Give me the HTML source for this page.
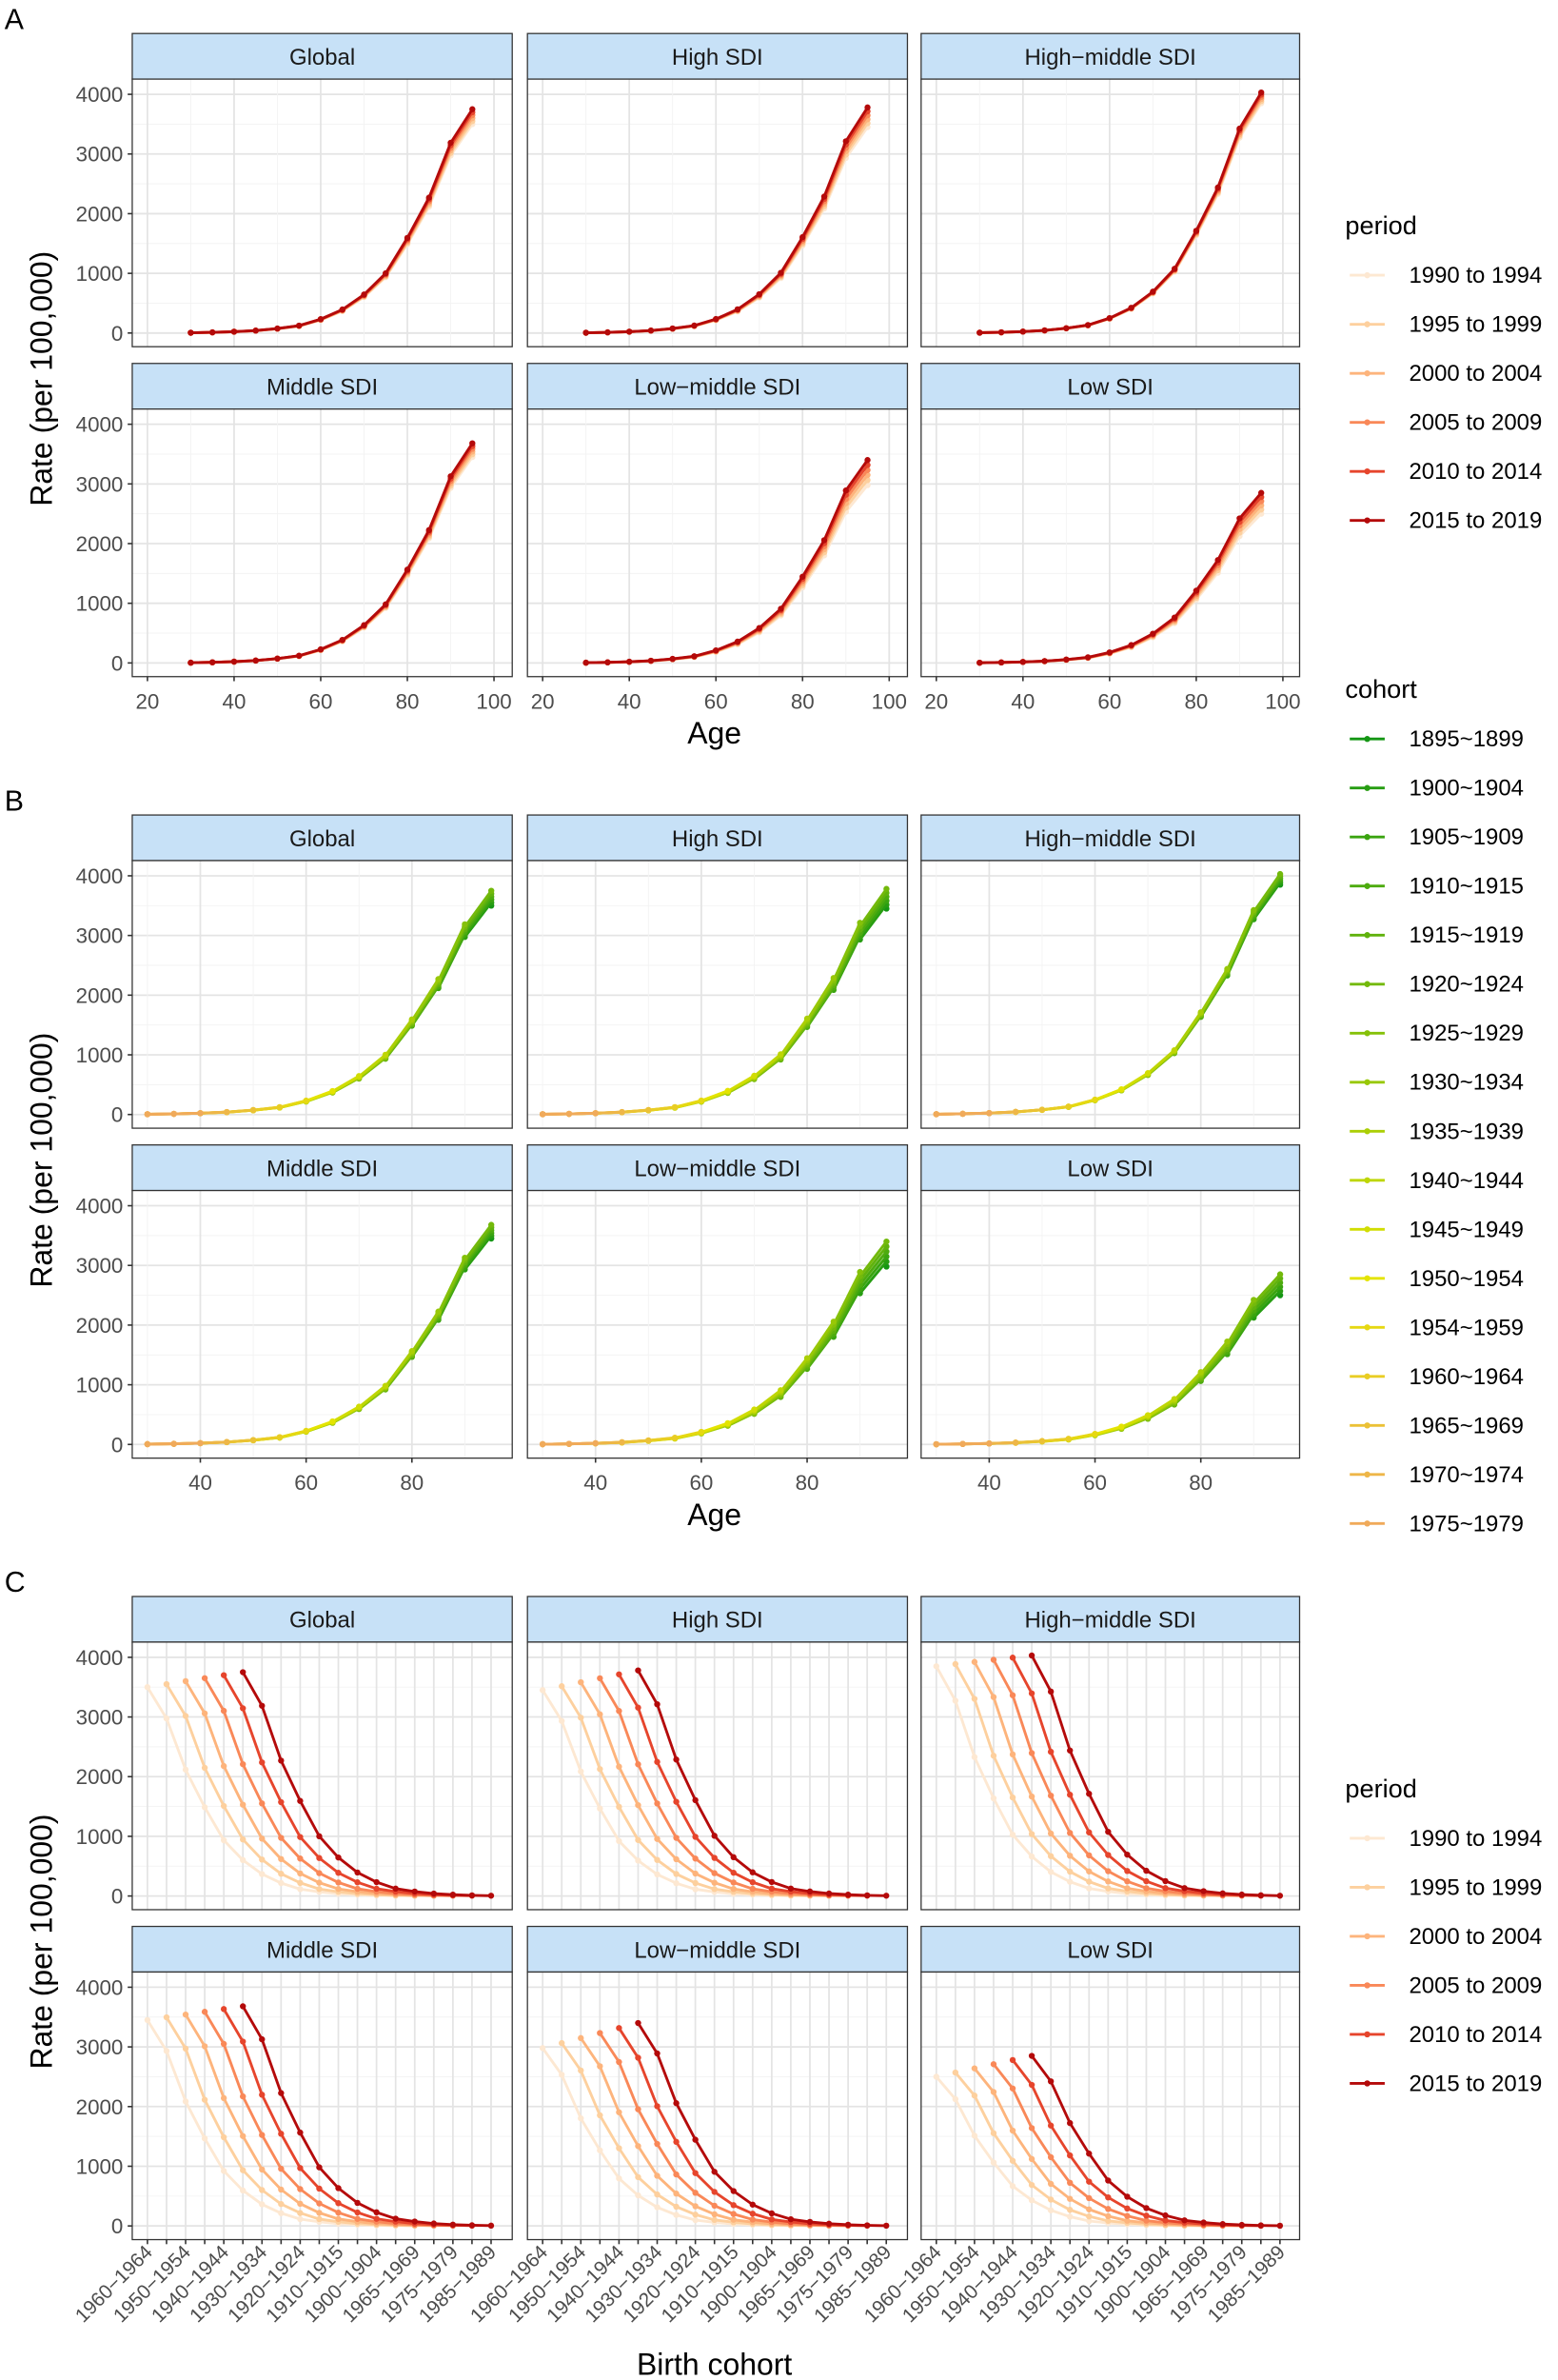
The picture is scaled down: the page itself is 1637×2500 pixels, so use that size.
<!DOCTYPE html>
<html><head><meta charset="utf-8"><style>
html,body{margin:0;padding:0;background:#fff}
svg{display:block}
text{font-family:"Liberation Sans",Arial,sans-serif}
</style></head><body>
<svg id="s" width="1637" height="2500" viewBox="0 0 1025 1565.3" xmlns="http://www.w3.org/2000/svg"></svg>
<script>
const S=document.getElementById('s');let h='';
const cols=[[87,337],[347,597],[606,855]];
const names=['Global','High SDI','High\u2212middle SDI','Middle SDI','Low\u2212middle SDI','Low SDI'];
const maxs=[[3500,3750],[3450,3780],[3850,4030],[3450,3680],[2980,3400],[2500,2850]];
const shape=[0.0013,0.003,0.006,0.011,0.02,0.033,0.062,0.105,0.172,0.267,0.425,0.605,0.85,1.0];
const ages=[30,35,40,45,50,55,60,65,70,75,80,85,90,95];
const pcol=['#fde8d2','#fdd09e','#fdb47c','#f98858','#e6452c','#b40a0a'];
function val(pi,p,ai){const[a,b]=maxs[pi];const s=shape[ai];const m=a+(b-a)*p/5;return m*s*(1-0.0*(5-p))+(s<0.5?0:0);}
function lerp(a,b,t){return a.map((v,i)=>Math.round(v+(b[i]-v)*t));}
function ccol(i){let c;if(i<=11)c=lerp([20,150,20],[228,228,0],i/11);else c=lerp([228,228,0],[240,170,90],(i-11)/5);return `rgb(${c})`;}
function strip(x0,x1,y0,t){h+=`<rect x="${x0}" y="${y0}" width="${x1-x0}" height="30" fill="#c7e1f7" stroke="#333" stroke-width="0.8"/><text x="${(x0+x1)/2}" y="${y0+20.5}" font-size="15" text-anchor="middle" fill="#1a1a1a">${t}</text>`;}
function panel(kind,ri,ci,top){
 const[x0,x1]=cols[ci];const y0=top+30,y1=y0+176,yz=y0+167,yt=y0+10;
 const Y=v=>yz-(yz-yt)*v/4000;
 strip(x0,x1,top,names[ri*3+ci]);
 h+=`<rect x="${x0}" y="${y0}" width="${x1-x0}" height="${y1-y0}" fill="#fff"/>`;
 let X;
 for(let v=-500;v<=4500;v+=500){const y=Y(v);if(y<y0||y>y1)continue;h+=`<line x1="${x0}" x2="${x1}" y1="${y}" y2="${y}" stroke="${v%1000?'#f3f3f3':'#e4e4e4'}" stroke-width="${v%1000?0.6:1.1}"/>`;}
 if(kind=='A'){X=a=>97+(x1-x0-250+ (x0-87))*0+ (a-20)*2.85+(x0-87);
  for(let a=10;a<=110;a+=10){const x=X(a);if(x<x0||x>x1)continue;h+=`<line x1="${x}" x2="${x}" y1="${y0}" y2="${y1}" stroke="${a%20?'#f3f3f3':'#e4e4e4'}" stroke-width="${a%20?0.6:1.1}"/>`;}}
 else if(kind=='B'){X=a=>97+(a-30)*3.48+(x0-87);
  for(let a=30;a<=100;a+=10){const x=X(a);if(x<x0||x>x1)continue;h+=`<line x1="${x}" x2="${x}" y1="${y0}" y2="${y1}" stroke="${a%20?'#f3f3f3':'#e4e4e4'}" stroke-width="${a%20?0.6:1.1}"/>`;}}
 else{X=k=>97+k*12.56+(x0-87);
  for(let k=0;k<19;k++){const x=X(k);h+=`<line x1="${x}" x2="${x}" y1="${y0}" y2="${y1}" stroke="#e4e4e4" stroke-width="1.1"/>`;}}
 const pi=ri*3+ci;
 if(kind=='A'||kind=='C'){
  for(let p=0;p<6;p++){const pts=ages.map((a,ai)=>[kind=='A'?X(a):X(p+(95-a)/5),Y(val(pi,p,ai))]);
   h+=`<polyline points="${pts.map(q=>q.join(',')).join(' ')}" fill="none" stroke="${pcol[p]}" stroke-width="1.8"/>`;
   pts.forEach(q=>h+=`<circle cx="${q[0]}" cy="${q[1]}" r="2" fill="${pcol[p]}"/>`);}
 }else{
  const coh={};
  for(let p=0;p<6;p++)ages.forEach((a,ai)=>{const b=1992+5*p-a;(coh[b]=coh[b]||[]).push([X(a),Y(val(pi,p,ai))]);});
  Object.keys(coh).sort((a,b)=>a-b).forEach(b=>{let ci2=Math.round((b-1897)/5);ci2=Math.max(0,Math.min(16,ci2));const c=ccol(ci2);const pts=coh[b].sort((u,v)=>u[0]-v[0]);
   h+=`<polyline points="${pts.map(q=>q.join(',')).join(' ')}" fill="none" stroke="${c}" stroke-width="1.8"/>`;pts.forEach(q=>h+=`<circle cx="${q[0]}" cy="${q[1]}" r="2" fill="${c}"/>`);});
 }
 h+=`<rect x="${x0}" y="${y0}" width="${x1-x0}" height="${y1-y0}" fill="none" stroke="#333" stroke-width="0.8"/>`;
 if(ci==0)for(let v=0;v<=4000;v+=1000)h+=`<line x1="${x0-3}" x2="${x0}" y1="${Y(v)}" y2="${Y(v)}" stroke="#333"/><text x="${x0-6}" y="${Y(v)+5}" font-size="14" text-anchor="end" fill="#4d4d4d">${v}</text>`;
 if(ri==1){
  if(kind=='A')for(let a=20;a<=100;a+=20)h+=`<line x1="${X(a)}" x2="${X(a)}" y1="${y1}" y2="${y1+3}" stroke="#333"/><text x="${X(a)}" y="${y1+21}" font-size="14" text-anchor="middle" fill="#4d4d4d">${a}</text>`;
  else if(kind=='B')for(let a=40;a<=80;a+=20)h+=`<line x1="${X(a)}" x2="${X(a)}" y1="${y1}" y2="${y1+3}" stroke="#333"/><text x="${X(a)}" y="${y1+21}" font-size="14" text-anchor="middle" fill="#4d4d4d">${a}</text>`;
  else{const L=['1960\u22121964','1950\u22121954','1940\u22121944','1930\u22121934','1920\u22121924','1910\u22121915','1900\u22121904','1965\u22121969','1975\u22121979','1985\u22121989'];
   for(let k=0;k<19;k++)h+=`<line x1="${X(k)}" x2="${X(k)}" y1="${y1}" y2="${y1+3}" stroke="#333"/>`;
   L.forEach((t,i)=>{const x=X(2*i)+4,y=y1+9;h+=`<text transform="translate(${x},${y}) rotate(-45)" font-size="13" text-anchor="end" fill="#4d4d4d">${t}</text>`;});}
 }
}
const tops={A:22,B:536,C:1050};
for(const k of['A','B','C'])for(let r=0;r<2;r++)for(let c=0;c<3;c++)panel(k,r,c,tops[k]+r*217);
// titles
[['A',22],['B',536],['C',1050]].forEach(([k,t])=>{h+=`<text x="3" y="${t-3}" font-size="19" fill="#000">${k}</text>`;
 h+=`<text transform="translate(34,${t+227}) rotate(-90)" font-size="20" text-anchor="middle" fill="#000">Rate (per 100,000)</text>`;});
h+=`<text x="470" y="489" font-size="20" text-anchor="middle">Age</text>`;
h+=`<text x="470" y="1003" font-size="20" text-anchor="middle">Age</text>`;
h+=`<text x="470" y="1562" font-size="20" text-anchor="middle">Birth cohort</text>`;
// legends
function leg(title,ty,items,cols2){h+=`<text x="885" y="${ty+6}" font-size="17" fill="#000">${title}</text>`;
 items.forEach((t,i)=>{const y=ty+33+i*32.25;h+=`<line x1="888" x2="911" y1="${y}" y2="${y}" stroke="${cols2[i]}" stroke-width="1.8"/><circle cx="899.5" cy="${y}" r="2" fill="${cols2[i]}"/><text x="927" y="${y+5}" font-size="15" fill="#000">${t}</text>`;});}
const per=['1990 to 1994','1995 to 1999','2000 to 2004','2005 to 2009','2010 to 2014','2015 to 2019'];
leg('period',148,per,pcol);
const coh=['1895~1899','1900~1904','1905~1909','1910~1915','1915~1919','1920~1924','1925~1929','1930~1934','1935~1939','1940~1944','1945~1949','1950~1954','1954~1959','1960~1964','1965~1969','1970~1974','1975~1979'];
leg('cohort',453,coh,coh.map((_,i)=>ccol(i)));
leg('period',1176,per,pcol);
S.innerHTML=h;
</script>
</body></html>
